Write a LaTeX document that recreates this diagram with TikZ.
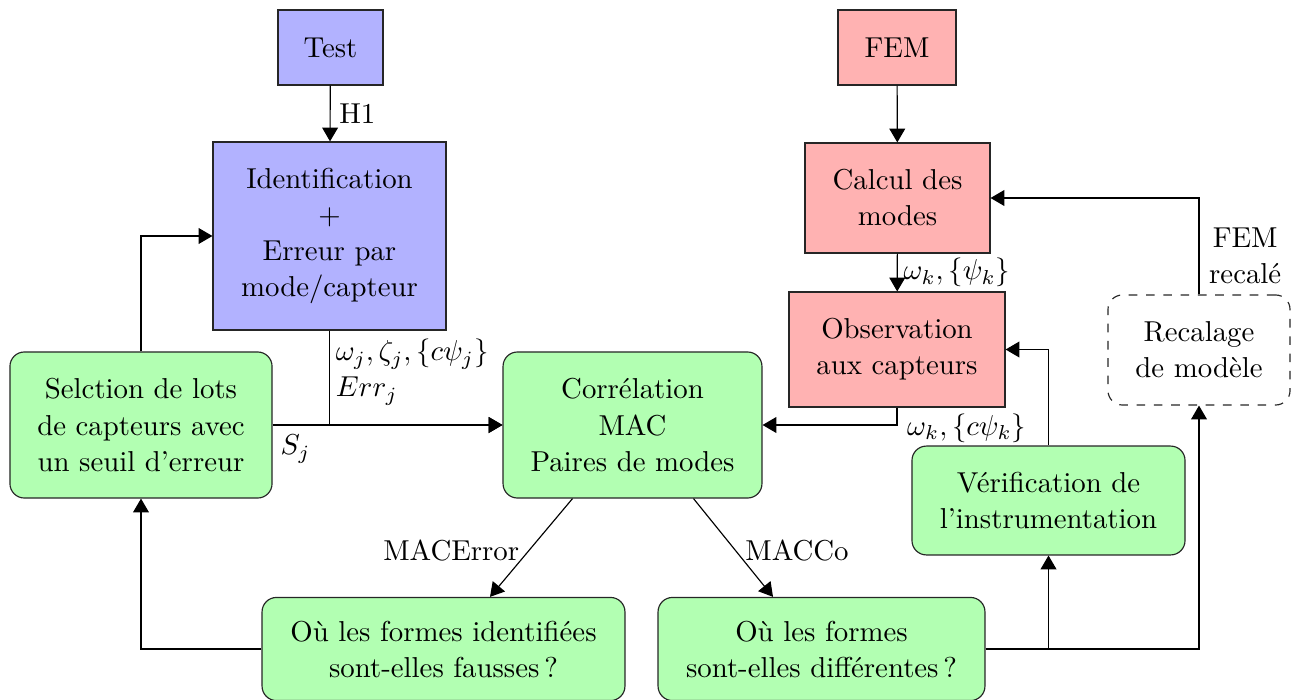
\documentclass[tikz,border=0pt]{standalone}
\usetikzlibrary{arrows.meta,calc}
\begin{document}
\begin{tikzpicture}[x=0.3472pt,y=-0.3472pt,
  every node/.style={font=\fontsize{10}{12.5}\selectfont},
  box/.style={draw=black!85,align=center,inner sep=2pt},
  bluebox/.style={box,fill=blue!30},
  redbox/.style={box,fill=red!30},
  greenbox/.style={box,fill=green!30,rounded corners=5pt},
  dashbox/.style={box,dashed,rounded corners=5pt},
  arr/.style={-{Triangle[length=4.8pt,width=5.5pt]},draw=black},
  lbl/.style={inner sep=3pt}]
\useasboundingbox (0,0) rectangle (1300,700);
% nodes
\node[bluebox,minimum width=36.5pt,minimum height=26pt] (test) at (330.5,47.5) {Test};
\node[bluebox,minimum width=80.9pt,minimum height=65.3pt] (ident) at (329.5,236) {Identification\\+\\Erreur par\\mode/capteur};
\node[redbox,minimum width=41pt,minimum height=26pt] (fem) at (897,47.5) {FEM};
\node[redbox,minimum width=64.2pt,minimum height=38.2pt] (calcul) at (897.5,198) {Calcul des\\modes};
\node[redbox,minimum width=75pt,minimum height=39.9pt] (obs) at (897,349.5) {Observation\\aux capteurs};
\node[dashbox,minimum width=63.2pt,minimum height=38.2pt] (recal) at (1199,350) {Recalage\\de modèle};
\node[greenbox,minimum width=91pt,minimum height=50.7pt] (sel) at (141,425) {Selction de lots\\de capteurs avec\\un seuil d’erreur};
\node[greenbox,minimum width=89.9pt,minimum height=50.7pt] (corr) at (632.5,425) {Corrélation\\MAC\\Paires de modes};
\node[greenbox,minimum width=94.8pt,minimum height=37.8pt] (verif) at (1048.5,500.5) {Vérification de\\l’instrumentation};
\node[greenbox,minimum width=126pt,minimum height=35.8pt] (ou1) at (443.5,649) {Où les formes identifiées\\sont-elles fausses\,?};
\node[greenbox,minimum width=113.5pt,minimum height=35.8pt] (ou2) at (821.5,649) {Où les formes\\sont-elles différentes\,?};
% connectors
\draw[arr] (test) -- node[lbl,right]{H1} (ident);
\draw[arr] (fem) -- (calcul);
\draw[arr] (calcul) -- node[lbl,right,inner sep=2pt]{$\omega_k,\{\psi_k\}$} (obs);
\draw[arr] (obs.south) |- node[pos=0.5,right,yshift=-1pt]{$\omega_k,\{c\psi_k\}$} (corr.east);
\draw[arr] (ident.south) |- node[pos=0.22,right,align=left,inner sep=2pt]{$\omega_j,\zeta_j,\{c\psi_j\}$\\$Err_j$} (corr.west);
\draw[arr] (sel.east) -- node[pos=0.1,below]{$S_j$} (corr.west);
\draw[arr] (sel.north) |- (ident.west);
\draw[arr] ($(corr.south)+(-60,0)$) -- node[midway,left,inner sep=4pt,yshift=-1pt]{MACError} ($(ou1.north)+(46.5,0)$);
\draw[arr] ($(corr.south)+(61,0)$) -- node[midway,right,inner sep=4pt,yshift=-1pt]{MACCo} ($(ou2.north)+(-48.5,0)$);
\draw[arr] (ou1.west) -| (sel.south);
\draw[arr] (ou2.east) -| (verif.south);
\draw[arr] (ou2.east) -| (recal.south);
\draw[arr] (verif.north) |- (obs.east);
\draw[arr] (recal.north) |- node[pos=0.2,right,align=center]{FEM\\recalé} (calcul.east);
\end{tikzpicture}
\end{document}
